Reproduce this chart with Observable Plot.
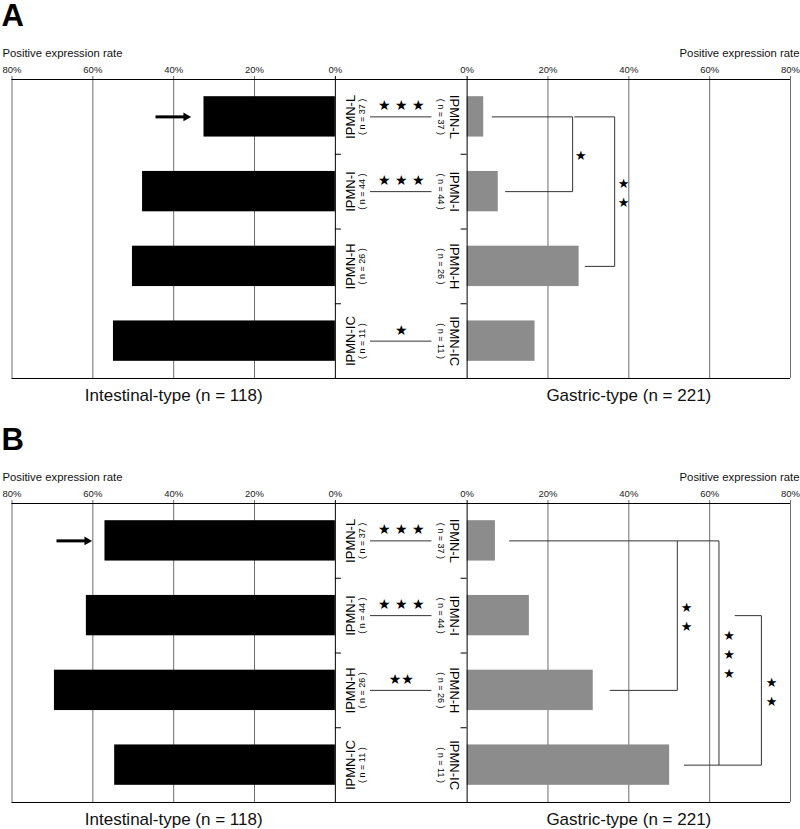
<!DOCTYPE html>
<html>
<head>
<meta charset="utf-8">
<script src="https://cdn.jsdelivr.net/npm/d3@7"></script>
<script src="https://cdn.jsdelivr.net/npm/@observablehq/plot@0.6"></script>
<style>
  body { margin: 0; background: #fff; }
  #chart svg { display: block; }
</style>
</head>
<body>
<div id="chart"></div>
<script>
// ---------- data ----------
const categories = ["IPMN-L", "IPMN-I", "IPMN-H", "IPMN-IC"];
const counts = [37, 44, 26, 11];
const tickValues = [0, 20, 40, 60, 80];

// Panel A (positive expression rate, %)
const intestinalA = [32.5, 47.7, 50.2, 54.9];
const gastricA = [4.1, 7.7, 27.7, 16.8];
const midStarsA = ["★ ★ ★", "★ ★ ★", "", "★"];
const bracketsA = [
  {from: 0, to: 1, topStart: 6.1, bottomStart: 9.4, x: 26.1, starX: 28.1, stars: 1},
  {from: 0, to: 2, topStart: 26.5, bottomStart: 29.1, x: 36.5, starX: 38.7, stars: 2}
];

// Panel B
const intestinalB = [57.0, 61.6, 69.5, 54.6];
const gastricB = [7.0, 15.4, 31.2, 50.1];
const midStarsB = ["★ ★ ★", "★ ★ ★", "★★", ""];
const bracketsB = [
  {from: 0, to: 2, topStart: 10.4, bottomStart: 35.3, x: 52.0, starX: 54.3, stars: 2},
  {from: 0, to: 3, topStart: 52.0, bottomStart: 53.6, x: 62.3, starX: 64.8, stars: 3},
  {from: 1, to: 3, topStart: 66.2, bottomStart: 62.3, x: 72.8, starX: 75.3, stars: 2}
];

const leftTitle = "Intestinal-type (n = 118)";
const rightTitle = "Gastric-type (n = 221)";
const axisTitle = "Positive expression rate";

// ---------- layout ----------
const G = 16.3;          // half gap (in % units) between the two 0% lines
const XMAX = 80 + G;
const BAR = 0.27;        // half bar thickness (band units)
const FONT = "Liberation Sans, Arial, Helvetica, sans-serif";
const STARFONT = "DejaVu Sans, sans-serif";

function panel(cfg) {
  const rows = categories.map((c, i) => ({
    c, i, n: counts[i], l: cfg.intestinal[i], r: cfg.gastric[i], s: cfg.midStars[i]
  }));
  const segs = [];
  cfg.brackets.forEach(b => {
    segs.push({x1: G + b.topStart, x2: G + b.x, y1: b.from, y2: b.from});
    segs.push({x1: G + b.x, x2: G + b.x, y1: b.from, y2: b.to});
    segs.push({x1: G + b.bottomStart, x2: G + b.x, y1: b.to, y2: b.to});
  });
  const grid = tickValues.filter(v => v > 0);
  const first = rows[0];
  const tip = -(G + first.l + 3.3);
  const tail = -(G + first.l + 12);

  return Plot.plot({
    width: 800,
    height: cfg.height,
    marginLeft: 11.5,
    marginRight: 10,
    marginTop: 79,
    marginBottom: cfg.height - 378,
    x: {domain: [-XMAX, XMAX], axis: null},
    y: {domain: [-0.5, 3.5], reverse: true, axis: null},
    style: {fontFamily: FONT, background: "#fff", overflow: "visible"},
    marks: [
      // grid lines
      Plot.ruleX(grid, {x: d => -(d + G), y1: -0.5, y2: 3.5, stroke: "#6e6e6e", strokeWidth: 1, insetTop: -3}),
      Plot.ruleX(grid, {x: d => d + G, y1: -0.5, y2: 3.5, stroke: "#6e6e6e", strokeWidth: 1, insetTop: -3}),
      // bars
      Plot.rect(rows, {x1: -G, x2: d => -(G + d.l), y1: d => d.i - BAR, y2: d => d.i + BAR, fill: "#000"}),
      Plot.rect(rows, {x1: G, x2: d => G + d.r, y1: d => d.i - BAR, y2: d => d.i + BAR, fill: "#8c8c8c"}),
      // zero lines and frame lines
      Plot.ruleX([-G, G], {y1: -0.5, y2: 3.5, stroke: "#000", strokeWidth: 1, insetTop: -3}),
      Plot.ruleY([-0.5, 3.5], {x1: -XMAX, x2: XMAX, stroke: "#000", strokeWidth: 1.2}),
      // inward ticks between categories
      Plot.ruleY([0.5, 1.5, 2.5], {x1: -G, x2: -G + 1.5, stroke: "#000"}),
      Plot.ruleY([0.5, 1.5, 2.5], {x1: G - 1.5, x2: G, stroke: "#000"}),
      // tick labels
      Plot.text(tickValues, {x: d => -(d + G), y: -0.5, dy: -10, text: d => d + "%", fontSize: 9.5, fill: "#222"}),
      Plot.text(tickValues, {x: d => d + G, y: -0.5, dy: -10, text: d => d + "%", fontSize: 9.5, fill: "#222"}),
      // axis titles
      Plot.text([axisTitle], {x: -XMAX, y: -0.5, dx: -9.5, dy: -26, textAnchor: "start", fontSize: 11.3, fill: "#111"}),
      Plot.text([axisTitle], {x: XMAX, y: -0.5, dx: 9, dy: -26, textAnchor: "end", fontSize: 11.3, fill: "#111"}),
      // panel letter
      Plot.text([cfg.letter], {x: -XMAX, y: -0.5, dx: -10.5, dy: -63, textAnchor: "start", fontSize: 31, fontWeight: "bold", fill: "#000"}),
      // group titles
      Plot.text([leftTitle], {x: -(40 + G), y: 3.5, dy: 17.5, fontSize: 17, fill: "#111"}),
      Plot.text([rightTitle], {x: 40 + G, y: 3.5, dy: 17.5, fontSize: 17, fill: "#111"}),
      // category labels (rotated)
      Plot.text(rows, {x: -G + 3.75, y: "i", text: "c", rotate: -90, fontSize: 13, fill: "#000"}),
      Plot.text(rows, {x: -G + 6.6, y: "i", text: d => "( n = " + d.n + " )", rotate: -90, fontSize: 9, fill: "#000"}),
      Plot.text(rows, {x: G - 3.3, y: "i", text: "c", rotate: 90, fontSize: 13, fill: "#000"}),
      Plot.text(rows, {x: G - 6.6, y: "i", text: d => "( n = " + d.n + " )", rotate: 90, fontSize: 9, fill: "#000"}),
      // middle comparison lines and stars
      Plot.ruleY(rows.filter(d => d.s), {y: "i", x1: -7.6, x2: 7.6, stroke: "#333"}),
      Plot.text(rows.filter(d => d.s), {x: 0, y: "i", dy: -11, text: "s", fontSize: 14, fontFamily: STARFONT, fill: "#000"}),
      // brackets
      Plot.link(segs, {x1: "x1", y1: "y1", x2: "x2", y2: "y2", stroke: "#333", strokeWidth: 1}),
      Plot.text(cfg.brackets, {x: b => G + b.starX, y: b => (b.from + b.to) / 2,
        text: b => Array(b.stars).fill("★").join("\n"), lineHeight: 1.45, fontSize: 13, fontFamily: STARFONT, fill: "#000"}),
      // arrow pointing to IPMN-L intestinal bar
      Plot.link([first], {x1: tail, x2: tip - 1, y1: "i", y2: "i", stroke: "#000", strokeWidth: 3}),
      Plot.dot([first], {x: tip - 1.15, y: "i", symbol: "triangle", r: 3.3, rotate: 90, fill: "#000", stroke: "none"})
    ]
  });
}

const chart = document.getElementById("chart");
chart.append(panel({letter: "A", height: 424, intestinal: intestinalA, gastric: gastricA, midStars: midStarsA, brackets: bracketsA}));
chart.append(panel({letter: "B", height: 405, intestinal: intestinalB, gastric: gastricB, midStars: midStarsB, brackets: bracketsB}));
</script>
</body>
</html>
